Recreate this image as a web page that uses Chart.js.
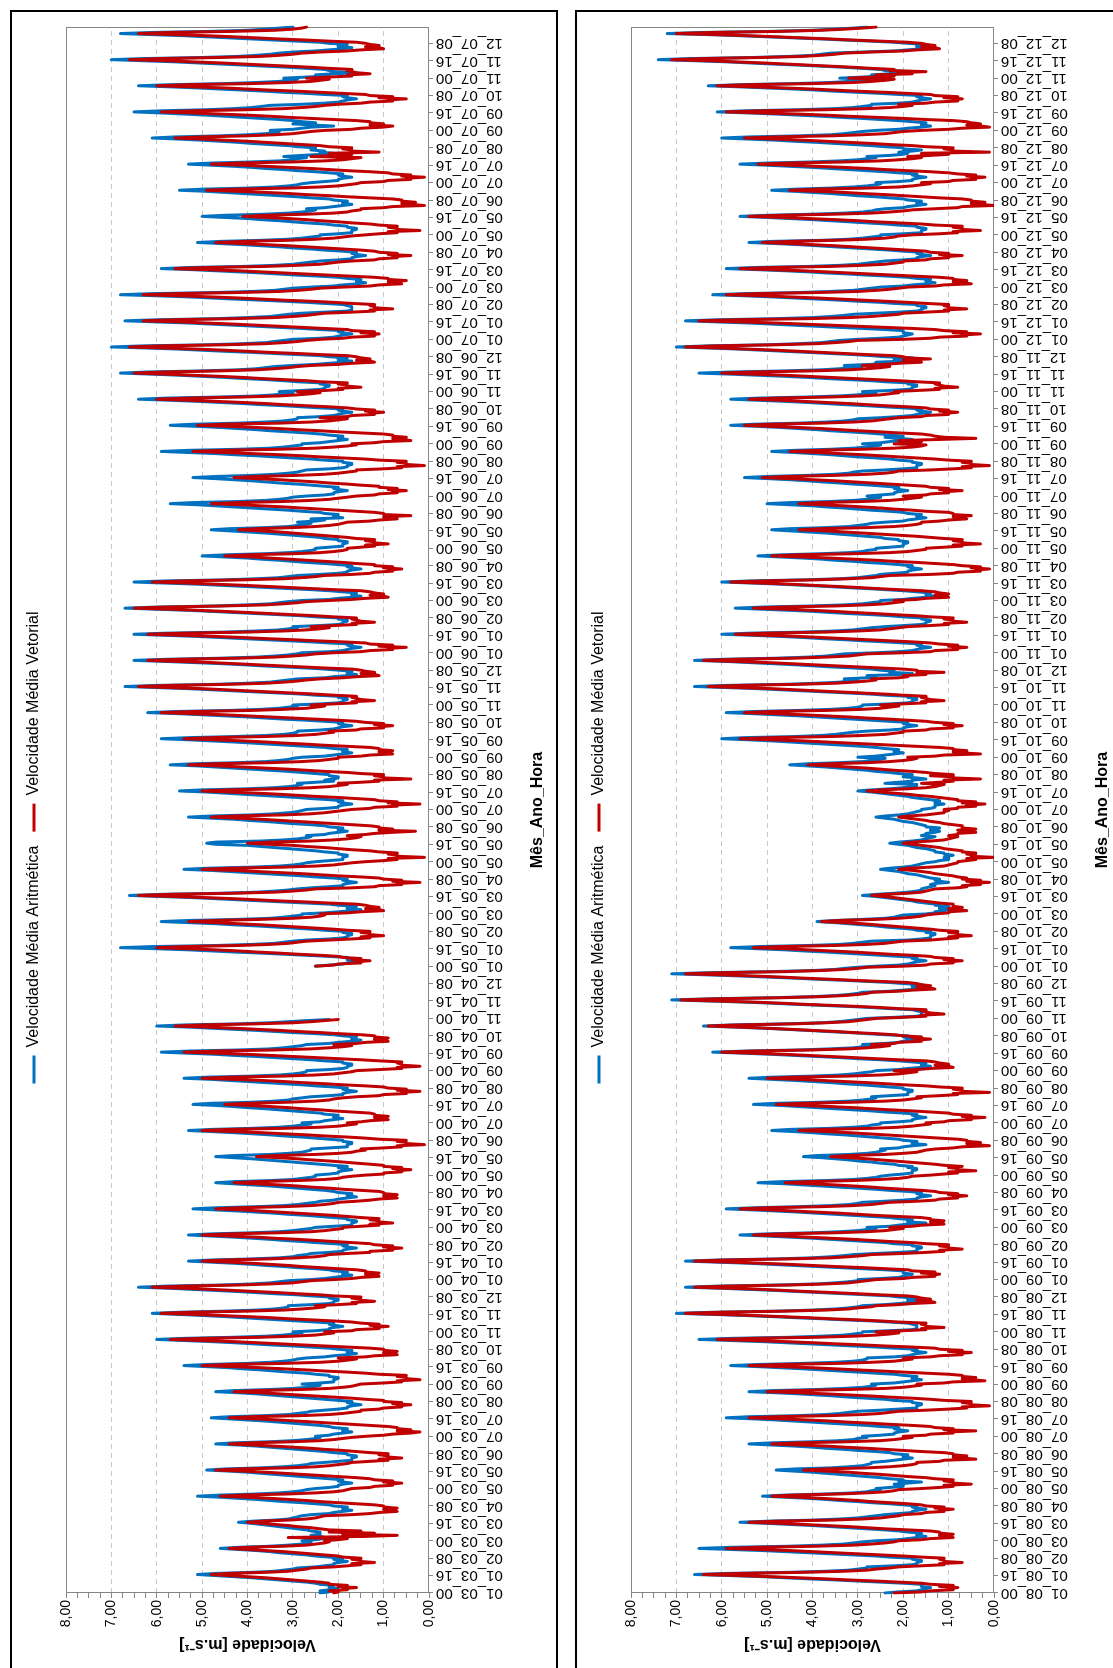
<!DOCTYPE html>
<html lang="pt-BR">
<head>
<meta charset="utf-8">
<title>Velocidade média aritmética e vetorial por Mês_Ano_Hora</title>
<script src="https://cdn.jsdelivr.net/npm/chart.js@4.4.1/dist/chart.umd.min.js"></script>
<style>
  html, body { margin: 0; padding: 0; background: #fff; }
  body { position: relative; width: 1113px; height: 1668px; overflow: hidden; }
  .panel { position: absolute; left: 0; top: 0; width: 1666px; height: 544px; border: 2px solid #000; background: #fff; transform-origin: 0 0; }
  #panel-a { transform: translate(10px, 1680px) rotate(-90deg); }
  #panel-b { transform: translate(575px, 1680px) rotate(-90deg); }
  .panel canvas { display: block; }
</style>
</head>
<body>
<div class="panel" id="panel-a"><canvas id="chart-a" width="1666" height="544"></canvas></div>
<div class="panel" id="panel-b"><canvas id="chart-b" width="1666" height="544"></canvas></div>
<script>
const FONT = "'Liberation Sans', Arial, sans-serif";
const BLUE = "#0070C0";
const RED = "#C00000";

const MONTHS = ["01", "02", "03", "04", "05", "06", "07", "08", "09", "10", "11", "12"];
const HOURS = ["00", "01", "02", "03", "04", "05", "06", "07", "08", "09", "10", "11",
               "12", "13", "14", "15", "16", "17", "18", "19", "20", "21", "22", "23"];
const YEARS_A = ["03", "04", "05", "06", "07"];
const YEARS_B = ["08", "09", "10", "11", "12"];
const LABEL_EVERY = 16;

// hourly means, one row of 24 hours per month, in tenths of m/s (null = no data)
const arit03 = [
  [24,22,24,22,20,22,22,21,24,25,27,30,33,36,39,43,47,51,47,39,34,32,30,29],
  [25,23,21,21,20,18,20,21,19,22,25,27,30,33,35,38,42,46,42,35,31,28,27,26],
  [28,25,23,23,24,26,24,24,24,26,27,29,31,33,35,37,39,42,39,34,31,30,29,28],
  [26,22,21,19,17,19,19,18,21,22,25,28,32,35,38,42,46,51,46,38,33,30,28,27],
  [25,22,20,20,19,17,19,20,19,22,25,28,31,34,37,40,44,49,45,37,32,29,27,26],
  [23,20,17,17,17,16,16,18,18,21,23,26,29,32,35,38,42,47,43,35,30,27,25,24],
  [25,22,21,19,17,19,19,18,21,22,24,27,30,33,36,40,44,48,44,36,31,29,27,26],
  [23,20,18,18,17,15,17,18,17,20,23,26,29,32,35,38,42,47,43,35,30,27,25,24],
  [28,24,21,21,21,20,20,22,22,25,27,31,34,37,41,44,49,54,49,40,35,32,30,29],
  [27,23,21,18,16,18,18,17,20,22,26,30,35,39,43,48,54,60,54,43,36,32,30,28],
  [30,25,22,22,21,19,21,22,21,25,29,33,37,41,45,50,55,61,55,45,38,34,32,31],
  [31,26,22,21,21,20,20,22,22,26,29,34,38,42,47,52,57,64,58,46,39,35,33,31]
];
const vet03 = [
  [21,20,22,18,19,16,20,18,22,22,24,27,30,33,36,40,44,48,44,36,31,29,27,26],
  [21,18,15,17,12,15,15,17,15,19,20,23,26,29,32,36,40,44,40,32,27,25,23,22],
  [23,20,18,31,14,7,19,12,22,15,22,24,26,29,31,34,37,40,37,31,27,25,24,23],
  [17,13,11,7,8,10,7,10,10,12,16,20,24,27,31,35,40,46,41,31,25,21,19,18],
  [17,13,12,8,9,6,10,8,12,13,16,20,24,28,32,36,41,47,42,31,25,22,20,18],
  [17,13,9,11,6,9,9,11,9,13,16,19,23,26,30,34,39,44,39,30,24,21,19,17],
  [14,10,8,4,2,7,4,7,7,9,13,17,21,25,29,33,38,44,39,28,22,19,17,15],
  [15,11,10,6,7,4,8,6,10,10,14,17,21,25,29,33,37,43,38,28,22,19,17,16],
  [15,10,6,7,2,5,5,7,5,11,14,18,23,27,32,37,43,50,44,32,24,20,18,16],
  [20,14,12,7,8,10,7,10,10,13,18,23,28,33,38,43,50,57,50,37,30,25,23,21],
  [23,17,16,11,12,9,13,11,15,17,21,26,31,35,40,46,52,59,52,40,32,28,25,23],
  [25,20,16,17,12,15,15,17,15,21,24,29,33,38,43,48,54,61,54,42,35,30,28,26]
];
const arit04 = [
  [26,23,21,19,17,19,19,18,21,22,25,29,32,36,39,43,48,53,48,39,33,30,29,27],
  [26,22,19,19,18,16,18,19,18,21,25,28,32,35,39,43,48,53,48,39,33,30,28,26],
  [25,21,17,17,17,16,16,18,18,21,24,27,31,34,38,42,47,52,47,38,32,29,27,25],
  [24,21,20,18,16,18,18,17,20,21,23,26,29,32,35,39,43,47,43,35,30,28,26,25],
  [25,22,20,20,19,17,19,20,18,21,24,27,30,33,36,39,43,47,43,35,31,28,27,26],
  [26,22,18,18,18,17,17,19,19,22,25,28,32,35,39,43,48,53,48,39,33,30,28,26],
  [28,24,23,21,19,21,21,20,23,24,27,30,33,36,40,43,47,52,48,39,34,31,30,28],
  [26,22,19,19,18,16,18,19,18,21,25,28,32,36,40,44,48,54,49,39,33,30,28,27],
  [27,22,19,18,18,17,17,19,19,23,26,30,34,38,43,47,53,59,53,42,35,32,30,28],
  [27,22,20,17,15,17,17,16,19,21,25,30,34,38,43,48,53,60,54,42,35,31,27,22],
  null,
  null
];
const vet04 = [
  [21,17,15,11,12,14,11,14,14,16,20,24,28,31,35,39,44,50,45,35,29,25,23,22],
  [18,13,13,8,9,6,10,8,12,13,17,21,25,29,34,38,44,50,44,33,26,23,21,19],
  [19,15,11,13,8,11,11,13,11,15,18,21,25,29,33,37,41,47,42,32,26,23,21,20],
  [16,13,11,7,8,10,7,10,10,11,15,19,22,26,29,33,38,43,38,29,23,20,19,17],
  [14,10,10,6,7,4,8,6,10,10,13,16,19,22,26,29,33,38,34,25,20,17,16,14],
  [15,10,6,7,1,5,5,7,5,11,14,18,23,27,32,37,43,50,44,32,24,20,18,16],
  [18,15,13,9,10,12,9,12,12,13,17,21,24,28,31,35,40,45,40,31,25,22,21,19],
  [16,11,10,5,6,2,7,5,9,10,14,19,23,28,32,37,43,50,44,32,25,21,19,17],
  [16,11,6,7,2,6,6,7,6,11,15,20,25,30,35,40,47,54,47,34,26,22,19,17],
  [21,16,14,9,10,12,9,12,12,15,20,24,29,33,38,43,49,56,50,38,30,26,23,20],
  null,
  null
];
const arit05 = [
  [25,22,19,18,17,16,18,18,18,22,27,32,37,43,48,53,60,68,61,47,39,34,32,30],
  [27,22,19,18,18,17,17,19,19,23,26,30,34,38,43,47,53,59,53,42,35,32,30,28],
  [28,23,20,17,15,18,18,16,20,22,27,32,37,42,47,52,59,66,59,46,38,34,31,29],
  [26,22,19,19,18,16,18,19,18,21,25,28,32,36,40,44,48,54,49,39,33,30,28,27],
  [25,22,19,19,19,18,18,20,20,23,25,28,31,34,37,40,47,49,47,37,32,29,27,26],
  [27,23,22,20,18,20,20,19,22,23,26,30,33,36,40,43,48,53,48,39,34,31,29,28],
  [27,23,20,20,19,17,19,20,19,22,26,29,33,37,41,45,49,55,50,40,34,31,29,28],
  [29,25,21,23,21,20,20,22,22,25,28,31,35,39,43,47,51,57,52,42,36,33,31,30],
  [28,23,21,19,17,19,19,18,21,23,27,31,35,39,43,48,53,59,53,43,36,32,30,29],
  [29,24,21,20,19,17,19,20,19,23,27,32,36,40,45,50,55,62,56,44,37,33,31,29],
  [30,24,20,19,19,18,18,20,20,25,28,33,38,43,48,53,60,67,60,47,40,35,33,31],
  [29,23,21,18,16,18,18,17,20,23,27,32,37,41,46,52,58,65,58,46,38,34,31,29]
];
const vet05 = [
  [25,21,20,15,16,13,17,15,19,20,24,29,33,38,42,47,53,60,54,42,35,31,29,27],
  [22,17,13,15,10,13,13,15,13,18,21,25,29,33,37,42,47,53,47,37,30,26,24,23],
  [24,18,15,10,11,14,11,13,14,16,22,27,33,38,43,49,56,64,57,43,34,30,27,25],
  [17,12,11,6,7,2,8,6,10,11,15,20,24,28,33,38,43,50,44,32,25,21,19,17],
  [14,10,7,9,1,7,7,9,7,11,13,17,20,23,27,30,35,40,35,26,21,18,16,15],
  [18,14,12,8,3,11,8,11,11,13,17,21,25,29,33,37,42,48,43,32,26,23,21,19],
  [17,13,12,7,8,2,9,7,11,12,16,20,25,29,33,38,44,50,44,33,26,22,20,18],
  [20,15,11,12,4,10,10,12,10,15,18,23,27,31,36,41,46,53,47,35,28,24,22,20],
  [20,15,13,8,9,11,8,11,11,13,18,23,27,32,36,41,47,54,48,36,29,25,23,21],
  [22,16,15,10,11,8,12,10,14,16,20,25,30,35,40,45,52,59,52,39,32,27,25,23],
  [26,21,16,17,12,15,16,17,16,21,25,30,35,40,45,50,57,64,57,44,36,32,29,27],
  [24,19,16,11,12,15,12,14,15,17,23,28,33,38,43,48,55,62,55,42,34,30,27,25]
];
const arit06 = [
  [28,22,19,18,17,15,17,18,17,22,26,31,36,41,46,51,58,65,58,45,38,33,31,29],
  [30,24,20,19,19,18,18,20,20,25,28,33,38,43,48,53,60,67,60,47,40,35,33,31],
  [28,22,20,17,15,17,17,16,19,22,26,31,36,41,46,51,58,65,58,45,38,33,31,29],
  [24,20,18,18,17,15,17,18,17,20,23,27,30,33,37,40,45,50,45,36,31,28,26,25],
  [25,22,19,19,19,18,18,20,20,23,24,27,30,33,36,40,44,48,44,36,31,29,27,26],
  [29,25,23,26,19,21,21,20,23,24,28,31,35,39,43,47,51,57,52,42,36,33,31,30],
  [27,23,21,21,20,18,20,21,20,23,26,29,33,36,39,43,47,52,47,39,34,31,29,28],
  [27,22,19,18,18,17,17,19,19,23,26,30,34,38,43,47,53,59,53,42,35,32,30,28],
  [28,24,22,20,18,20,20,19,22,24,27,31,35,38,42,46,51,57,52,42,36,32,30,29],
  [29,24,21,20,19,17,19,20,19,24,28,32,37,41,46,51,57,64,58,46,38,34,32,30],
  [33,28,24,23,23,22,22,24,24,29,32,36,41,45,50,55,61,68,62,50,42,38,36,34],
  [30,25,22,19,17,20,20,18,22,24,29,34,39,45,50,55,62,70,63,49,41,36,34,32]
];
const vet06 = [
  [21,15,13,8,9,5,11,8,13,14,19,25,30,36,41,47,54,62,54,40,32,27,24,22],
  [26,21,16,17,12,15,16,17,16,21,25,30,35,40,45,51,57,65,58,45,36,32,29,27],
  [22,17,14,9,10,13,10,12,13,15,21,26,31,36,41,47,53,61,54,41,32,28,25,23],
  [17,13,12,8,9,6,10,8,12,12,16,19,23,27,31,35,39,45,40,30,24,21,19,18],
  [18,15,12,14,9,12,12,14,12,16,18,21,24,27,30,33,37,42,38,30,25,22,20,19],
  [18,13,11,7,8,10,4,10,10,12,16,20,24,28,32,37,42,48,42,32,26,22,20,18],
  [16,12,11,7,8,5,9,7,11,11,15,18,22,25,29,33,38,43,38,29,23,20,18,16],
  [16,10,6,7,1,5,5,7,5,11,14,19,24,28,33,39,45,52,45,33,25,21,18,16],
  [17,12,10,4,6,8,5,8,8,10,15,20,24,29,33,38,44,51,45,33,26,22,20,18],
  [24,18,17,12,13,10,14,12,16,18,22,27,32,36,41,47,53,60,53,41,33,29,26,24],
  [29,23,19,20,15,18,18,20,18,24,27,32,37,41,46,52,58,65,58,46,38,34,31,29],
  [26,20,17,12,13,16,13,15,16,18,24,29,35,40,45,51,58,66,59,45,36,32,29,27]
];
const arit07 = [
  [30,24,21,20,19,17,19,20,19,24,28,33,38,43,48,53,60,67,60,47,40,35,33,31],
  [28,23,18,17,17,17,17,18,19,23,27,32,37,43,48,53,60,68,61,47,39,34,32,30],
  [26,21,19,16,14,16,16,15,18,20,24,29,33,37,42,47,52,59,53,41,34,30,28,26],
  [24,20,17,17,16,14,16,17,16,19,23,26,30,33,37,41,46,51,46,37,31,28,26,24],
  [24,20,17,17,17,16,16,18,18,21,23,27,30,33,37,40,45,50,45,36,31,28,26,25],
  [27,23,21,19,17,19,19,18,21,22,26,29,33,37,41,45,49,55,50,40,34,31,29,28],
  [26,23,20,20,19,17,19,20,19,22,25,29,32,36,39,43,48,53,48,39,33,30,29,27],
  [32,28,24,21,24,23,26,25,25,29,31,35,39,42,46,50,55,61,56,46,40,36,34,33],
  [35,30,28,26,21,26,30,25,28,30,33,37,41,45,49,54,59,65,59,49,43,39,37,35],
  [28,23,20,19,18,16,18,19,18,23,27,32,36,41,46,51,57,64,57,45,38,33,31,29],
  [32,27,22,25,21,16,21,22,23,27,31,36,41,46,51,56,63,70,63,50,42,38,35,33],
  [30,25,22,19,17,20,20,18,22,24,29,34,39,44,49,54,61,68,61,48,40,36,33,30]
];
const vet07 = [
  [24,19,17,12,13,11,15,12,17,18,23,28,33,38,43,49,55,63,56,43,34,30,27,25],
  [23,17,12,13,8,12,12,13,12,17,21,26,32,37,42,48,55,63,56,42,33,29,26,24],
  [19,13,11,6,7,9,5,9,9,12,17,22,27,32,37,42,49,56,49,36,29,24,22,20],
  [17,12,11,7,8,4,9,7,11,12,15,19,23,27,31,36,41,47,41,31,25,21,19,17],
  [14,11,7,9,2,7,7,9,7,11,13,17,20,24,27,31,36,41,36,27,21,18,17,15],
  [15,10,8,1,4,6,3,6,6,8,13,18,22,27,31,36,42,49,43,31,24,20,18,16],
  [15,10,9,4,5,1,6,4,8,9,13,18,22,26,31,36,41,48,42,30,23,19,17,15],
  [26,21,17,22,11,17,17,19,17,22,24,28,32,36,40,45,50,56,50,40,34,30,28,26],
  [23,17,15,10,8,13,10,13,13,16,21,26,31,35,40,46,52,59,52,40,32,28,25,23],
  [20,15,13,8,9,5,11,8,13,14,19,24,29,35,40,45,52,60,53,39,31,26,24,22],
  [27,22,17,18,13,16,17,18,17,22,26,31,36,41,46,52,58,66,59,46,37,33,30,28],
  [24,18,15,10,11,14,11,13,14,16,22,27,33,38,43,49,56,64,57,43,34,30,28,27]
];
const arit08 = [
  [24,21,17,16,15,14,16,16,16,20,25,30,35,41,46,51,58,66,59,45,37,32,30,28],
  [28,22,18,17,17,16,16,18,18,23,26,31,36,41,46,51,58,65,58,45,38,33,31,29],
  [26,21,19,17,15,17,17,16,19,21,24,28,32,36,40,45,50,56,50,40,34,30,28,26],
  [24,21,18,18,17,15,17,18,17,20,23,27,30,34,37,41,46,51,46,37,31,28,27,25],
  [26,23,20,20,22,19,16,21,20,23,25,28,31,34,37,40,44,48,44,36,32,29,28,27],
  [27,24,22,20,18,20,20,19,22,23,26,30,33,37,40,44,49,54,49,40,34,31,30,28],
  [29,25,22,22,21,19,21,22,21,25,28,32,36,40,44,48,53,59,54,43,37,34,32,30],
  [25,21,17,17,17,16,16,18,18,22,24,28,32,35,39,43,48,54,49,39,33,29,27,26],
  [27,22,20,18,16,18,18,17,20,22,26,30,34,38,42,47,52,58,52,42,35,31,29,28],
  [28,22,19,18,17,15,17,18,17,22,26,31,36,41,46,51,58,65,58,45,38,33,31,29],
  [29,23,18,17,17,17,17,18,19,23,27,33,38,44,49,55,62,70,62,48,40,35,32,30],
  [29,24,21,18,16,19,19,17,21,23,28,33,38,43,48,54,60,68,61,48,39,35,32,30]
];
const vet08 = [
  [22,16,14,9,10,8,12,9,14,16,21,26,32,37,43,49,56,64,56,42,33,28,26,23],
  [21,16,11,12,7,11,11,12,11,16,20,25,30,35,40,45,52,59,52,39,31,27,24,22],
  [21,16,14,9,10,12,9,12,12,14,19,24,28,32,37,42,47,54,48,36,29,25,23,21],
  [20,16,15,11,12,9,13,11,15,16,19,23,27,30,34,38,43,49,44,34,28,24,22,21],
  [16,12,9,11,5,9,9,11,9,13,15,19,22,25,29,32,37,42,37,28,23,20,18,17],
  [17,12,11,4,7,9,6,9,9,11,16,20,24,28,33,37,43,49,43,32,25,22,20,18],
  [20,15,14,9,10,4,11,9,13,14,18,23,27,32,36,41,47,54,48,36,29,25,23,21],
  [15,10,6,7,1,5,5,7,5,11,14,18,23,27,32,37,43,50,44,32,24,20,18,16],
  [17,11,9,2,5,7,4,7,7,10,15,20,25,30,35,40,47,54,47,34,27,22,20,18],
  [20,14,12,7,8,5,10,7,12,13,18,24,29,35,40,46,53,61,53,39,31,26,23,21],
  [26,20,15,16,11,15,15,16,15,21,25,30,36,41,47,53,60,68,60,46,37,32,30,27],
  [26,21,18,13,14,17,14,16,17,19,25,30,35,41,46,51,58,66,59,45,37,32,30,28]
];
const arit09 = [
  [30,25,21,20,19,18,20,20,20,24,29,34,39,44,49,54,61,68,61,48,40,36,33,31],
  [26,21,17,17,17,16,16,18,18,22,24,28,32,36,40,45,50,56,50,40,34,30,28,26],
  [28,23,21,19,15,19,19,18,21,23,27,31,35,39,43,48,53,59,53,43,36,32,30,29],
  [24,20,17,17,16,14,16,17,16,19,23,26,30,34,38,42,46,52,47,37,31,28,26,25],
  [23,20,18,18,18,17,17,19,18,21,22,25,27,30,32,35,38,42,39,32,28,26,25,24],
  [25,21,20,18,15,18,18,17,20,21,24,27,30,33,37,40,44,49,45,36,31,28,27,25],
  [25,21,18,18,17,15,17,18,17,20,24,27,31,35,39,43,47,53,48,38,32,29,27,26],
  [27,23,19,19,19,18,18,20,20,23,26,29,33,36,40,44,49,54,49,40,34,31,29,27],
  [26,21,19,16,14,16,16,15,18,21,25,30,34,39,44,49,55,62,55,43,36,31,29,27],
  [29,24,21,20,19,17,19,20,19,24,28,32,37,41,46,51,57,64,58,46,38,34,32,30],
  [28,22,17,16,16,16,16,17,18,23,27,32,38,44,49,55,63,71,63,49,40,35,32,30],
  [29,23,20,17,15,18,18,16,20,23,28,33,39,44,50,56,63,71,63,49,40,35,33,30]
];
const vet09 = [
  [26,20,18,13,14,12,16,13,18,19,24,29,35,40,45,51,58,66,59,45,36,32,29,27],
  [20,15,11,12,7,10,10,12,10,15,18,23,27,31,36,41,46,53,47,35,28,24,22,20],
  [23,18,16,11,12,14,11,14,14,16,21,26,30,34,39,44,49,56,50,38,31,27,25,23],
  [17,13,12,8,9,6,10,8,12,13,16,20,24,27,31,35,40,46,41,31,25,21,19,18],
  [14,11,8,10,4,8,8,10,7,11,13,16,19,22,25,28,32,36,32,24,20,17,16,15],
  [13,9,7,1,4,6,3,6,6,8,12,16,20,24,28,32,37,43,38,27,21,18,16,14],
  [15,11,10,5,6,2,7,5,9,10,14,18,23,27,31,36,42,48,42,31,24,20,18,16],
  [17,12,8,9,1,7,7,9,7,12,15,20,24,28,33,38,43,50,44,32,25,21,19,17],
  [22,17,14,9,10,13,10,12,13,15,21,26,31,36,41,46,53,60,53,40,32,28,25,23],
  [27,22,21,16,17,14,18,16,20,22,26,31,35,40,45,50,56,63,56,44,37,32,30,28],
  [26,20,15,16,11,14,15,16,15,21,25,30,36,42,47,53,61,69,61,47,38,33,30,28],
  [27,21,18,13,14,17,14,16,17,19,25,31,36,42,47,53,60,68,60,46,38,33,30,28]
];
const arit10 = [
  [26,21,19,18,17,15,17,18,17,21,25,29,33,37,42,46,52,58,52,41,34,31,29,27],
  [19,16,14,14,14,13,13,15,14,17,18,21,24,26,29,32,35,39,35,29,24,22,21,20],
  [15,13,13,11,10,12,12,10,13,13,15,17,18,20,22,24,26,29,26,22,19,17,16,16],
  [15,14,13,14,13,10,12,13,12,14,15,16,17,19,20,21,23,25,23,20,18,17,16,15],
  [13,12,10,10,11,10,9,11,11,13,13,14,15,17,18,19,21,23,21,18,16,15,14,13],
  [16,15,15,13,12,14,13,12,15,15,16,17,18,20,21,22,24,26,24,21,19,18,17,16],
  [16,14,13,13,13,11,13,13,12,14,16,18,19,21,23,25,27,30,27,23,20,18,17,17],
  [24,21,18,18,15,17,20,19,18,21,23,26,28,31,34,37,41,45,41,34,29,27,25,24],
  [30,26,24,22,20,22,22,21,24,26,29,33,37,41,45,49,54,60,55,44,38,35,33,31],
  [28,23,20,20,19,17,19,20,19,23,27,31,35,39,43,48,53,59,53,43,36,32,30,29],
  [29,23,19,18,18,17,17,19,19,24,27,32,37,42,47,52,59,66,59,46,39,34,32,30],
  [33,28,26,28,21,18,23,22,25,27,31,36,40,44,49,54,59,66,60,48,41,37,35,33]
];
const vet10 = [
  [20,15,14,9,10,7,11,9,13,14,18,23,27,31,36,41,46,53,47,35,28,24,22,20],
  [14,11,8,10,5,8,8,10,8,12,14,17,20,23,26,29,33,38,34,26,21,18,16,15],
  [13,10,10,6,8,10,7,9,9,9,12,14,16,18,20,22,24,27,24,19,16,15,14,13],
  [8,6,7,3,5,1,6,3,7,6,8,9,11,13,14,16,18,21,19,14,11,10,9,8],
  [8,6,4,6,0,5,4,6,4,7,7,9,11,12,14,16,18,20,18,14,11,10,9,8],
  [10,8,8,4,6,8,4,7,7,7,9,11,12,14,15,17,19,21,19,15,13,11,11,10],
  [11,8,8,4,6,2,7,4,8,8,10,12,14,17,19,22,25,28,25,19,15,13,12,11],
  [16,12,9,11,3,9,9,14,9,13,15,18,22,25,28,32,36,41,36,28,23,20,18,17],
  [19,13,11,3,7,9,6,9,9,12,17,22,27,32,37,42,49,56,49,36,29,24,22,20],
  [20,15,14,9,10,7,11,9,13,15,19,23,28,32,37,42,48,55,49,37,29,25,23,21],
  [25,20,15,16,11,14,15,16,15,20,24,29,34,39,44,49,56,63,56,43,35,31,28,26],
  [27,21,19,20,15,17,11,17,17,20,25,30,35,40,45,50,57,64,57,44,37,32,30,28]
];
const arit11 = [
  [26,21,18,17,16,14,16,17,16,20,24,29,33,38,42,47,53,60,54,42,35,31,29,27],
  [24,20,16,15,15,14,14,16,16,20,23,27,32,36,40,45,51,57,51,40,33,29,27,25],
  [25,20,18,15,13,15,15,14,17,20,24,28,33,37,42,47,53,60,54,42,34,30,28,26],
  [25,22,19,19,18,16,18,19,18,21,24,28,31,35,38,42,47,52,47,38,32,29,28,26],
  [26,23,20,20,20,19,19,21,21,24,25,28,31,34,37,41,45,49,45,37,32,30,28,27],
  [24,20,19,17,15,17,17,16,19,20,23,27,30,33,37,40,45,50,45,36,31,28,26,25],
  [28,25,22,22,21,19,21,22,21,24,27,31,34,38,41,45,50,55,50,41,35,32,31,29],
  [24,20,17,17,17,16,16,18,18,21,23,26,30,33,36,40,44,49,44,36,31,28,26,25],
  [29,25,23,21,18,21,24,20,23,25,28,32,36,39,43,47,52,58,53,43,37,33,31,30],
  [25,21,18,17,16,14,16,17,16,20,24,28,33,37,41,46,52,58,52,41,34,30,28,26],
  [29,23,19,18,18,17,17,19,19,24,27,32,37,41,46,52,58,65,58,46,38,34,31,29],
  [33,27,25,26,20,22,22,18,24,27,31,36,41,46,51,56,63,70,63,50,43,38,36,34]
];
const vet11 = [
  [20,14,13,8,9,6,10,8,12,14,18,23,28,33,38,43,50,57,50,37,30,25,23,21],
  [19,14,10,11,6,9,9,11,9,14,17,22,26,31,35,40,46,53,47,35,28,24,22,20],
  [22,17,15,10,11,13,10,12,13,16,21,26,30,35,40,45,51,58,51,39,32,27,25,23],
  [14,9,8,3,4,1,5,3,7,9,13,17,22,26,31,36,42,49,43,31,23,19,17,15],
  [15,11,7,9,3,7,7,9,7,11,14,17,21,25,29,33,37,43,38,28,22,19,17,16],
  [16,12,10,6,7,9,5,9,9,10,15,18,22,25,29,33,38,43,38,29,23,20,18,16],
  [20,15,14,10,11,7,12,10,14,15,19,23,27,31,35,40,45,51,45,35,28,24,22,21],
  [14,9,5,7,1,5,5,7,5,10,13,17,21,25,29,34,39,45,39,29,22,18,16,15],
  [22,18,16,21,12,4,11,13,14,16,21,25,30,34,38,43,49,55,49,38,31,27,25,23],
  [21,16,15,10,11,8,12,10,14,15,19,24,28,32,37,42,47,54,48,36,29,25,23,21],
  [22,17,12,13,8,11,12,13,12,17,21,26,31,36,41,46,53,60,53,40,32,28,25,23],
  [29,24,21,16,17,20,14,19,20,22,28,33,38,43,48,54,60,68,61,48,39,35,32,30]
];
const arit12 = [
  [30,25,21,20,19,18,20,20,20,24,29,34,39,44,49,54,61,68,61,48,40,36,33,31],
  [26,21,17,16,16,15,15,17,17,22,25,30,34,39,44,49,55,62,55,43,36,31,29,27],
  [25,20,18,15,13,15,15,14,17,19,23,28,32,37,41,46,52,59,53,41,34,30,28,26],
  [24,20,17,17,16,14,16,17,16,20,23,27,31,35,39,43,48,54,49,38,32,29,27,25],
  [25,20,16,16,16,15,15,17,17,21,24,28,32,36,40,45,50,56,50,40,33,29,27,26],
  [24,20,19,17,15,17,17,16,19,20,23,26,30,33,36,40,44,49,44,36,31,28,26,25],
  [26,21,18,18,17,15,17,18,17,21,24,28,32,36,40,45,50,56,50,40,34,30,28,26],
  [28,23,20,19,21,18,16,20,20,24,27,31,35,39,44,48,54,60,54,43,36,33,31,29],
  [26,21,19,16,14,16,16,15,18,21,25,29,34,38,43,48,54,61,55,43,35,31,29,27],
  [27,21,18,17,16,14,16,17,16,21,25,30,35,39,44,50,56,63,56,44,36,32,29,27],
  [34,29,24,27,23,22,18,24,25,29,33,38,43,49,54,59,66,74,67,53,45,40,38,36],
  [29,22,19,16,14,17,17,15,19,22,27,33,38,44,50,56,63,72,64,49,40,35,31,28]
];
const vet12 = [
  [20,14,12,6,7,3,9,6,11,13,18,24,30,36,42,48,56,65,57,41,32,27,24,21],
  [20,15,10,11,6,10,10,11,10,15,19,24,29,34,39,45,51,59,52,39,30,26,23,21],
  [19,13,11,5,7,9,6,9,9,12,17,22,27,32,37,42,49,56,49,36,29,24,22,20],
  [20,15,14,10,11,7,12,10,14,15,19,23,27,31,35,40,45,51,45,35,28,24,22,21],
  [18,12,8,9,3,7,7,9,7,13,16,21,26,30,35,41,47,54,47,35,27,23,20,18],
  [13,8,7,0,3,5,2,5,5,7,12,16,20,24,29,33,39,45,39,28,21,18,16,14],
  [16,10,9,4,5,2,6,4,8,10,14,19,24,28,33,39,45,52,45,33,25,21,18,16],
  [19,14,10,16,1,9,9,11,9,15,18,23,27,32,37,42,48,55,48,36,29,24,22,20],
  [16,10,7,1,3,6,3,5,6,9,15,20,26,32,37,43,51,59,51,37,28,23,20,18],
  [21,15,13,8,9,7,11,8,13,14,19,24,30,35,40,46,53,61,54,40,31,27,24,22],
  [32,27,22,26,18,21,15,23,22,27,31,36,41,46,51,57,63,71,64,51,42,38,35,33],
  [27,20,17,12,13,16,13,15,16,19,25,31,36,42,48,54,61,70,62,47,38,33,29,26]
];

const labelsFor = (years) =>
  years.flatMap(y => MONTHS.flatMap(m => HOURS.map(h => `${m}_${y}_${h}`)));

const toSeries = (yearRows) =>
  yearRows.flatMap(rows => rows.flatMap(r => r ? r.map(v => v / 10) : HOURS.map(() => null)));

const fmtVel = (v) => v.toFixed(2).replace(".", ",");

// keep a fixed band for the legend so the plot area lands where it should
const legendSpace = {
  id: "legendSpace",
  beforeInit(chart) {
    const fit = chart.legend.fit;
    chart.legend.fit = function () {
      fit.call(this);
      this.height = 54;
    };
  }
};

const plotFrame = {
  id: "plotFrame",
  beforeDatasetsDraw(chart) {
    const { ctx, chartArea: a } = chart;
    ctx.save();
    ctx.strokeStyle = "#868686";
    ctx.lineWidth = 1;
    ctx.strokeRect(Math.round(a.left) + 0.5, Math.round(a.top) + 0.5,
                   Math.round(a.width) - 1, Math.round(a.height) - 1);
    ctx.restore();
  }
};

function drawPanel(canvasId, years, arit, vet) {
  new Chart(document.getElementById(canvasId), {
    type: "line",
    data: {
      labels: labelsFor(years),
      datasets: [
        { label: "Velocidade Média Aritmética", data: toSeries(arit), borderColor: BLUE,
          backgroundColor: BLUE, borderWidth: 3, order: 1 },
        { label: "Velocidade Média Vetorial", data: toSeries(vet), borderColor: RED,
          backgroundColor: RED, borderWidth: 3, order: 0 }
      ]
    },
    options: {
      responsive: false,
      animation: false,
      devicePixelRatio: 1,
      spanGaps: false,
      layout: { padding: { left: 10, right: 15, top: 0, bottom: 6 } },
      elements: {
        point: { radius: 0, hoverRadius: 0 },
        line: { tension: 0, borderJoinStyle: "round", borderCapStyle: "round" }
      },
      plugins: {
        legend: {
          position: "top",
          labels: {
            usePointStyle: true,
            pointStyle: "line",
            pointStyleWidth: 28,
            padding: 14,
            color: "#000",
            font: { family: FONT, size: 16 },
            sort: (a, b) => a.datasetIndex - b.datasetIndex
          }
        },
        tooltip: { enabled: false }
      },
      scales: {
        x: {
          afterFit: (s) => { s.height = 121; s.paddingLeft = 0; s.paddingRight = 0; },
          ticks: {
            autoSkip: false,
            minRotation: 90,
            maxRotation: 90,
            padding: 3,
            color: "#000",
            font: { family: FONT, size: 15 },
            callback: function (v, i) { return i % LABEL_EVERY === 0 ? this.getLabelForValue(v) : ""; }
          },
          grid: {
            drawOnChartArea: false,
            drawTicks: true,
            tickLength: 4,
            tickColor: (c) => c.index % LABEL_EVERY === 0 ? "#868686" : "rgba(0,0,0,0)"
          },
          border: { display: false },
          title: {
            display: true,
            text: "Mês_Ano_Hora",
            color: "#000",
            font: { family: FONT, size: 16, weight: "bold" },
            padding: { top: 0, bottom: 3 }
          }
        },
        y: {
          min: 0,
          max: 8,
          afterFit: (s) => { s.width = 75; s.paddingTop = 0; s.paddingBottom = 0; },
          ticks: {
            stepSize: 0.25,
            maxTicksLimit: 40,
            autoSkip: false,
            padding: 2,
            color: "#000",
            font: { family: FONT, size: 14 },
            callback: (v) => Number.isInteger(v) ? fmtVel(v) : ""
          },
          grid: {
            color: (c) => (c.tick && Number.isInteger(c.tick.value) && c.tick.value > 0 && c.tick.value < 8)
              ? "#C8C8C8" : "rgba(0,0,0,0)",
            lineWidth: 1,
            drawTicks: true,
            tickLength: 5,
            tickBorderDash: [],
            tickColor: "#868686"
          },
          border: { display: false, dash: [5, 4] },
          title: {
            display: true,
            text: "Velocidade [m.s⁻¹]",
            color: "#000",
            font: { family: FONT, size: 16, weight: "bold" },
            padding: { top: 14, bottom: 0 }
          }
        }
      }
    },
    plugins: [legendSpace, plotFrame]
  });
}

drawPanel("chart-a", YEARS_A, [arit03, arit04, arit05, arit06, arit07], [vet03, vet04, vet05, vet06, vet07]);
drawPanel("chart-b", YEARS_B, [arit08, arit09, arit10, arit11, arit12], [vet08, vet09, vet10, vet11, vet12]);
</script>
</body>
</html>
